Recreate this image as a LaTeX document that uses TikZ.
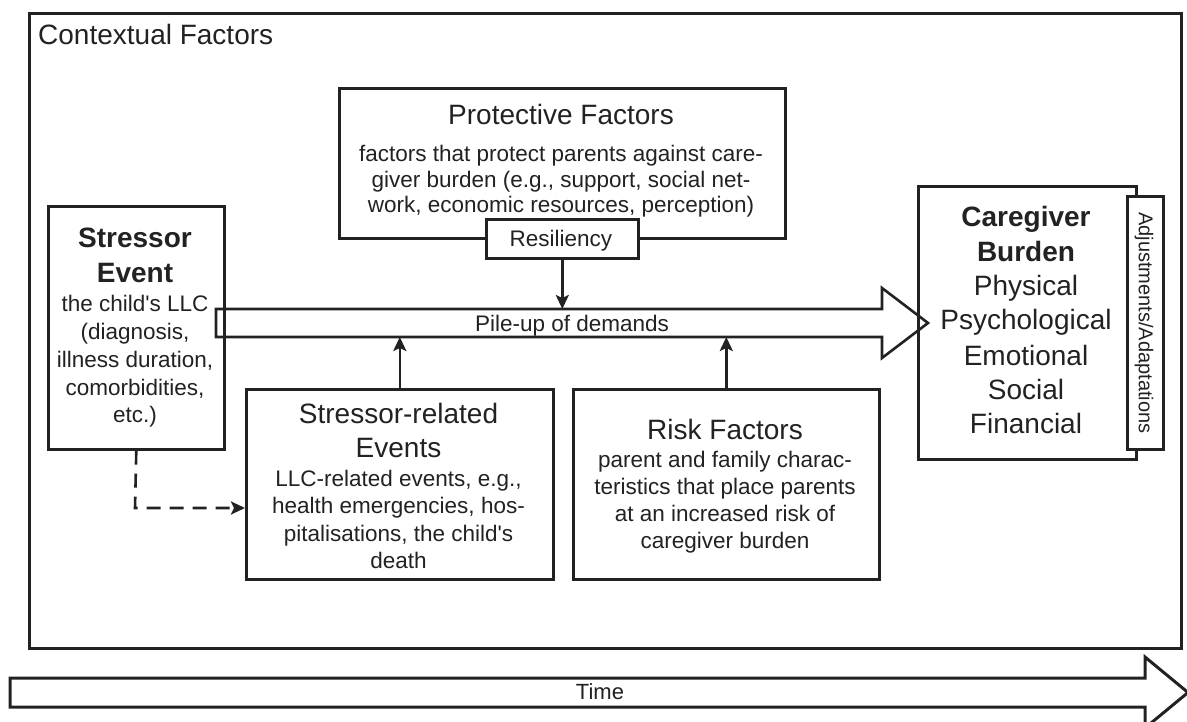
\documentclass[tikz,border=0pt]{standalone}
\usepackage{fontspec}
\setmainfont{Liberation Sans}
\usetikzlibrary{arrows.meta}
\definecolor{ink}{HTML}{222222}
\begin{document}
\begin{tikzpicture}[x=1pt,y=-1pt,
  ln/.style={draw=ink, line width=2.6pt, line join=miter},
  box/.style={draw=ink, line width=2.6pt, fill=white, inner sep=0pt, anchor=north west},
  arr/.style={draw=ink, line width=2.6pt, -{Stealth[length=14pt,width=13pt,inset=3pt]}},
  hd/.style={font=\fontsize{28}{34}\selectfont, text=ink, anchor=base, inner sep=0pt},
  hdb/.style={font=\bfseries\fontsize{28}{34}\selectfont, text=ink, anchor=base, inner sep=0pt},
  bd/.style={font=\fontsize{22.5}{27}\selectfont, text=ink, anchor=base, inner sep=0pt},
  sm/.style={font=\fontsize{20}{24}\selectfont, text=ink, inner sep=0pt},
]
\useasboundingbox (0,0) rectangle (1187,722);
\fill[white] (0,0) rectangle (1187,722);

% outer context box
\node[box, line width=3pt, fill=none, minimum width=1152pt, minimum height=635pt] (ctx) at (28,12) {};
\node[hd, anchor=base west] (ctxt) at (38,45) {Contextual Factors};

% protective factors
\node[box, minimum width=446pt, minimum height=150pt] (prot) at (338,87) {};
\node[hd] (prot1) at (561,125) {Protective Factors};
\node[bd] (prot2) at (561,162) {factors that protect parents against care-};
\node[bd] (prot3) at (561,188) {giver burden (e.g., support, social net-};
\node[bd] (prot4) at (561,213) {work, economic resources, perception)};
\node[box, minimum width=152pt, minimum height=39pt] (resil) at (485,218) {};
\node[bd] (resilt) at (561,247) {Resiliency};

% stressor event
\node[box, minimum width=176pt, minimum height=243pt] (stress) at (47,205) {};
\node[hdb] (st1) at (135,248) {Stressor};
\node[hdb] (st2) at (135,283) {Event};
\node[bd] (st3) at (135,312) {the child\textquotesingle s LLC};
\node[bd] (st4) at (135,339) {(diagnosis,};
\node[bd] (st5) at (135,367) {illness duration,};
\node[bd] (st6) at (135,395) {comorbidities,};
\node[bd] (st7) at (135,422) {etc.)};

% caregiver burden
\node[box, minimum width=218pt, minimum height=273pt] (care) at (917,185) {};
\node[box, minimum width=36pt, minimum height=253pt] (adj) at (1126,195) {};
\node[sm, rotate=-90] (adjt) at (1144,323) {Adjustments/Adaptations};
\node[hdb] (cb1) at (1026,227) {Caregiver};
\node[hdb] (cb2) at (1026,262) {Burden};
\node[hd] (cb3) at (1026,296) {Physical};
\node[hd] (cb4) at (1026,330) {Psychological};
\node[hd] (cb5) at (1026,365) {Emotional};
\node[hd] (cb6) at (1026,399) {Social};
\node[hd] (cb7) at (1026,433) {Financial};

% stressor-related events
\node[box, minimum width=307pt, minimum height=190pt] (srel) at (245,388) {};
\node[hd] (sr1) at (398.5,423) {Stressor-related};
\node[hd] (sr2) at (398.5,457) {Events};
\node[bd] (sr3) at (398.5,486) {LLC-related events, e.g.,};
\node[bd] (sr4) at (398.5,513) {health emergencies, hos-};
\node[bd] (sr5) at (398.5,541) {pitalisations, the child\textquotesingle s};
\node[bd] (sr6) at (398.5,568) {death};

% risk factors
\node[box, minimum width=306pt, minimum height=190pt] (risk) at (572,388) {};
\node[hd] (rk1) at (725,439) {Risk Factors};
\node[bd] (rk2) at (725,467) {parent and family charac-};
\node[bd] (rk3) at (725,494) {teristics that place parents};
\node[bd] (rk4) at (725,521) {at an increased risk of};
\node[bd] (rk5) at (725,548) {caregiver burden};

% pile-up arrow
\draw[ln] (216,309) -- (882,309) -- (882,288) -- (928,323) -- (882,358) -- (882,337) -- (216,337) -- cycle;
\node[bd] (pile) at (572,331) {Pile-up of demands};
\coordinate (pileTop) at (0,309);
\coordinate (pileBot) at (0,337);

% connectors
\draw[arr] (resil.south) -- (resil.south |- pileTop);
\draw[arr] (srel.north) -- (srel.north |- pileBot);
\draw[arr] (risk.north) -- (risk.north |- pileBot);
\coordinate (dashC) at (135,508);
\draw[arr, dash pattern=on 14pt off 9pt] (stress.south) -- (dashC) -- (dashC -| srel.west);

% time arrow
\draw[ln, line width=3pt] (10,678) -- (1145,678) -- (1145,657) -- (1188,692.5) -- (1145,728) -- (1145,707) -- (10,707) -- cycle;
\node[font=\fontsize{22}{26}\selectfont, text=ink, inner sep=0pt] (time) at (600,692) {Time};
\end{tikzpicture}
\end{document}
